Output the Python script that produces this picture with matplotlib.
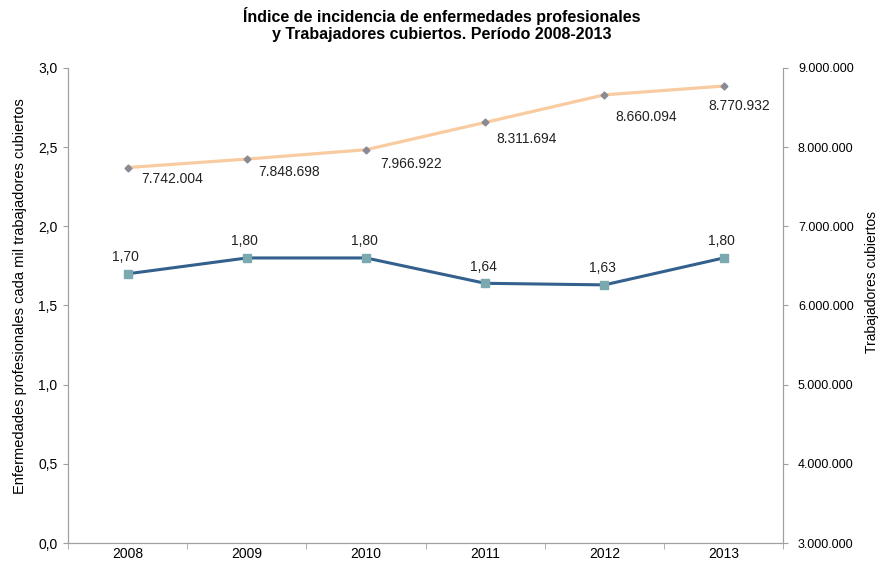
import matplotlib.pyplot as plt
import matplotlib.ticker as mticker

years = ["2008", "2009", "2010", "2011", "2012", "2013"]
incidencia = [1.70, 1.80, 1.80, 1.64, 1.63, 1.80]
incidencia_labels = ["1,70", "1,80", "1,80", "1,64", "1,63", "1,80"]
trabajadores = [7742004, 7848698, 7966922, 8311694, 8660094, 8770932]

# desplazamiento (pt) de las etiquetas de la serie naranja
label_offsets = [(10, -8), (8, -9), (10, -10), (8, -12), (8, -16), (-11, -14)]


def miles(v, pos=None):
    return f"{int(round(v)):,}".replace(",", ".")


plt.rcParams['font.family'] = ['Liberation Sans', 'DejaVu Sans']
plt.rcParams['font.size'] = 10

fig = plt.figure(figsize=(8.84, 5.66), dpi=100)
ax = fig.add_axes([0.077, 0.0406, 0.809, 0.8394])
ax2 = ax.twinx()

x = list(range(len(years)))
grey = "#a0a0a0"

# linea de trabajadores (eje derecho)
ax2.plot(x, trabajadores, color="#f9cba0", lw=2.3, marker="D", ms=3.5,
         mfc="#8a8a96", mec="#8a8a96", zorder=3)
for xi, v, off in zip(x, trabajadores, label_offsets):
    ax2.annotate(miles(v), (xi, v), xytext=off, textcoords="offset points",
                 ha="left", va="center", fontsize=10, color="#222222")

# linea de incidencia (eje izquierdo)
ax.plot(x, incidencia, color="#33608c", lw=2.2, marker="s", ms=6,
        mfc="#7aa9b0", mec="#7aa9b0", zorder=3)
for xi, v, lab in zip(x, incidencia, incidencia_labels):
    ax.annotate(lab, (xi, v), xytext=(-1.5, 12), textcoords="offset points",
                ha="center", va="center", fontsize=10, color="#222222")

ax.set_xlim(-0.5, len(years) - 0.5)
ax.set_ylim(0, 3)
ax.yaxis.set_major_locator(mticker.MultipleLocator(0.5))
ax.yaxis.set_major_formatter(mticker.FuncFormatter(lambda v, p: f"{v:.1f}".replace(".", ",")))
ax.set_xticks(x)
ax.set_xticklabels(years, fontsize=10)
ax.set_xticks([i - 0.5 for i in range(len(years) + 1)], minor=True)
ax.tick_params(axis="x", which="major", length=0, pad=3)
ax.tick_params(axis="x", which="minor", length=4, color=grey)
ax.tick_params(axis="y", length=3.6, color=grey, pad=4, labelsize=10)

ax2.set_ylim(3000000, 9000000)
ax2.yaxis.set_major_locator(mticker.MultipleLocator(1000000))
ax2.yaxis.set_major_formatter(mticker.FuncFormatter(miles))
ax2.tick_params(axis="y", length=3.6, color=grey, pad=7, labelsize=9)

for a in (ax, ax2):
    for s in a.spines.values():
        s.set_color(grey)
    a.spines["top"].set_visible(False)

ax.set_ylabel("Enfermedades profesionales cada mil trabajadores cubiertos", fontsize=10.5)
ax.yaxis.set_label_coords(-0.057, 0.52)
ax2.set_ylabel("Trabajadores cubiertos", fontsize=10, rotation=90)
ax2.yaxis.set_label_coords(1.114, 0.55)

fig.suptitle("Índice de incidencia de enfermedades profesionales\ny Trabajadores cubiertos. Período 2008-2013",
             x=0.50, y=0.988, fontsize=11.5, fontweight="bold", linespacing=1.15)

fig.savefig("out.png", dpi=100)
